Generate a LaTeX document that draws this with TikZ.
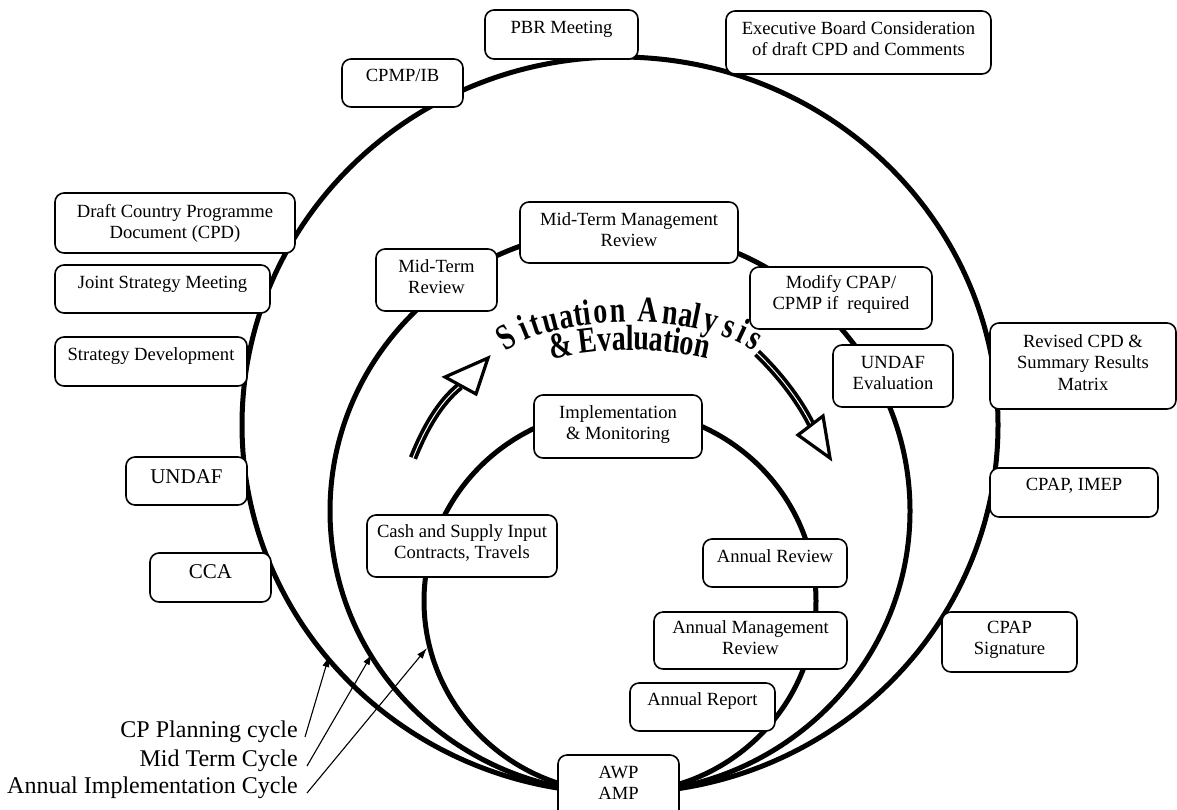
\documentclass[tikz,border=0pt]{standalone}
\usepackage{fontspec}
\setmainfont{Liberation Serif}
\usetikzlibrary{arrows.meta,fit}

% fonts
\newcommand\bigtxt{\fontsize{21}{25}\selectfont}
\newcommand\archfont{\fontsize{28}{30}\selectfont\bfseries}
% tall letter for the arched title
\newcommand\tall[1]{\scalebox{1}[1.3]{#1}}

% rounded text box: name, x1, y1, x2, y2, first baseline, text
\newcommand\tb[7]{%
  \node[box, fit={(#2,#3) (#4,#5)}] (#1) {};
  \node[txt] (#1-t) at ({(#2+#4)/2},{#6-15}) {\strut #7};
}

\begin{document}
\begin{tikzpicture}[x=1pt,y=-1pt,
  ring/.style={draw=black, line width=5pt},
  box/.style={draw=black, line width=1.6pt, rounded corners=9pt, fill=white, inner sep=0pt},
  txt/.style={font=\fontsize{18.6}{21.5}\selectfont, align=center, inner sep=0pt, anchor=north},
  cyc/.style={font=\fontsize{24}{28}\selectfont, inner sep=0pt, anchor=base east},
  archletter/.style={font=\archfont, inner sep=0pt, anchor=base},
  pointer/.style={line width=1.1pt, -{Latex[length=11pt,width=7pt]}},
  shaftout/.style={draw=black, line width=8.5pt},
  shaftin/.style={draw=white, line width=1pt},
  hollowhead/.style={draw=black, fill=white, line width=3.2pt, line join=miter}]

\useasboundingbox (0,0) rectangle (1177,809);
\fill[white] (0,0) rectangle (1177,809);
\clip (0,0) rectangle (1177,809);

% the three cycles, touching at the bottom
\draw[ring] (620,425) ellipse [x radius=378, y radius=368];
\draw[ring] (620,511) ellipse [x radius=290, y radius=282];
\draw[ring] (620,601) ellipse [x radius=196, y radius=192];

% curved block arrows
\draw[shaftout] (413,458) .. controls (425,428) and (440,402) .. (460,386);
\draw[shaftin] (413,458) .. controls (425,428) and (440,402) .. (460,386);
\draw[hollowhead] (445,377) -- (488,358) -- (476,394) -- cycle;
\draw[shaftout] (757,353) .. controls (777,372) and (798,398) .. (811,424);
\draw[shaftin] (757,353) .. controls (777,372) and (798,398) .. (811,424);
\draw[hollowhead] (798,435) -- (830,458) -- (823,416) -- cycle;

% arched title, upper line: letters on an elliptic arc (a=140, b=55)
\foreach \ch/\px [count=\k] in {S/512, i/528, t/539, u/553, a/568, t/580, i/588,
    o/601, n/618, A/648, n/669, a/684, l/694, y/708, s/726, i/738, s/749} {
  \pgfmathsetmacro\u{(\px-630)/140}
  \pgfmathsetmacro\q{sqrt(1-\u*\u)}
  \pgfmathsetmacro\py{377-55*\q}
  \pgfmathsetmacro\ang{atan(-(55/140)*\u/\q)}
  \node[archletter, rotate=\ang] (sa-\k) at (\px,\py) {\tall{\ch}};
}
% arched title, lower line: letters on a flat circular arc (r=342)
\foreach \ch/\px [count=\k] in {{\&}/562.6, E/589.0, v/605.3, a/619.0, l/629.7,
    u/641.2, a/655.9, t/667.3, i/675.1, o/685.8, n/700.3} {
  \pgfmathsetmacro\u{(\px-630)/342}
  \pgfmathsetmacro\py{692-342*sqrt(1-\u*\u)}
  \pgfmathsetmacro\ang{asin(-\u)}
  \node[archletter, rotate=\ang] (ev-\k) at (\px,\py) {\tall{\ch}};
}

% outer cycle
\tb{pbr}{485}{10}{638}{59}{33}{PBR Meeting}
\tb{exb}{726}{11}{991}{74}{34}{Executive Board Consideration\\ of draft CPD and Comments}
\tb{cpmp}{342}{59}{463}{107}{81}{CPMP/IB}
\tb{dcpd}{55}{193}{295}{253}{217}{Draft Country Programme\\ Document (CPD)}
\tb{jsm}{55}{265}{270}{313}{288}{Joint Strategy Meeting}
\tb{sdev}{55}{337}{247}{386}{360}{Strategy Development}
\tb{undaf}{126}{457}{247}{505}{483}{\bigtxt UNDAF}
\tb{cca}{150}{553}{271}{602}{578}{\bigtxt CCA}
\tb{rcpd}{990}{323}{1176}{409}{347}{Revised CPD \&\\ Summary Results\\ Matrix}
\tb{imep}{990}{468}{1158}{517}{490}{CPAP, IMEP}
\tb{sig}{942}{612}{1077}{672}{633}{CPAP\\ Signature}

% mid-term cycle
\tb{mtr}{376}{249}{497}{311}{272}{Mid-Term\\ Review}
\tb{mtmr}{520}{202}{738}{263}{225}{Mid-Term Management\\ Review}
\tb{mod}{750}{267}{932}{329}{288}{Modify CPAP/\\ CPMP if\ \ required}
\tb{undafe}{833}{345}{953}{407}{368}{UNDAF\\ Evaluation}

% annual cycle
\tb{impl}{534}{395}{702}{458}{418}{Implementation\\ \& Monitoring}
\tb{cash}{367}{515}{557}{577}{537}{Cash and Supply Input\\ Contracts, Travels}
\tb{ar}{703}{539}{847}{587}{562}{Annual Review}
\tb{amr}{654}{612}{847}{669}{633}{Annual Management\\ Review}
\tb{arep}{630}{683}{775}{731}{705}{Annual Report}
\tb{awp}{558}{755}{679}{822}{778}{AWP\\ AMP}

% cycle legend
\node[cyc] (cpc) at (298,737) {CP Planning cycle};
\node[cyc] (mtc) at (298,766) {Mid Term Cycle};
\node[cyc] (aic) at (298,793) {Annual Implementation Cycle};

\coordinate (hitOuter) at (329,656);
\coordinate (hitMid) at (372,654);
\coordinate (hitInner) at (427,648);

\draw[pointer] ([xshift=7pt]cpc.base east) -- (hitOuter);
\draw[pointer] ([xshift=9pt]mtc.base east) -- (hitMid);
\draw[pointer] ([xshift=9pt]aic.base east) -- (hitInner);
\end{tikzpicture}
\end{document}
